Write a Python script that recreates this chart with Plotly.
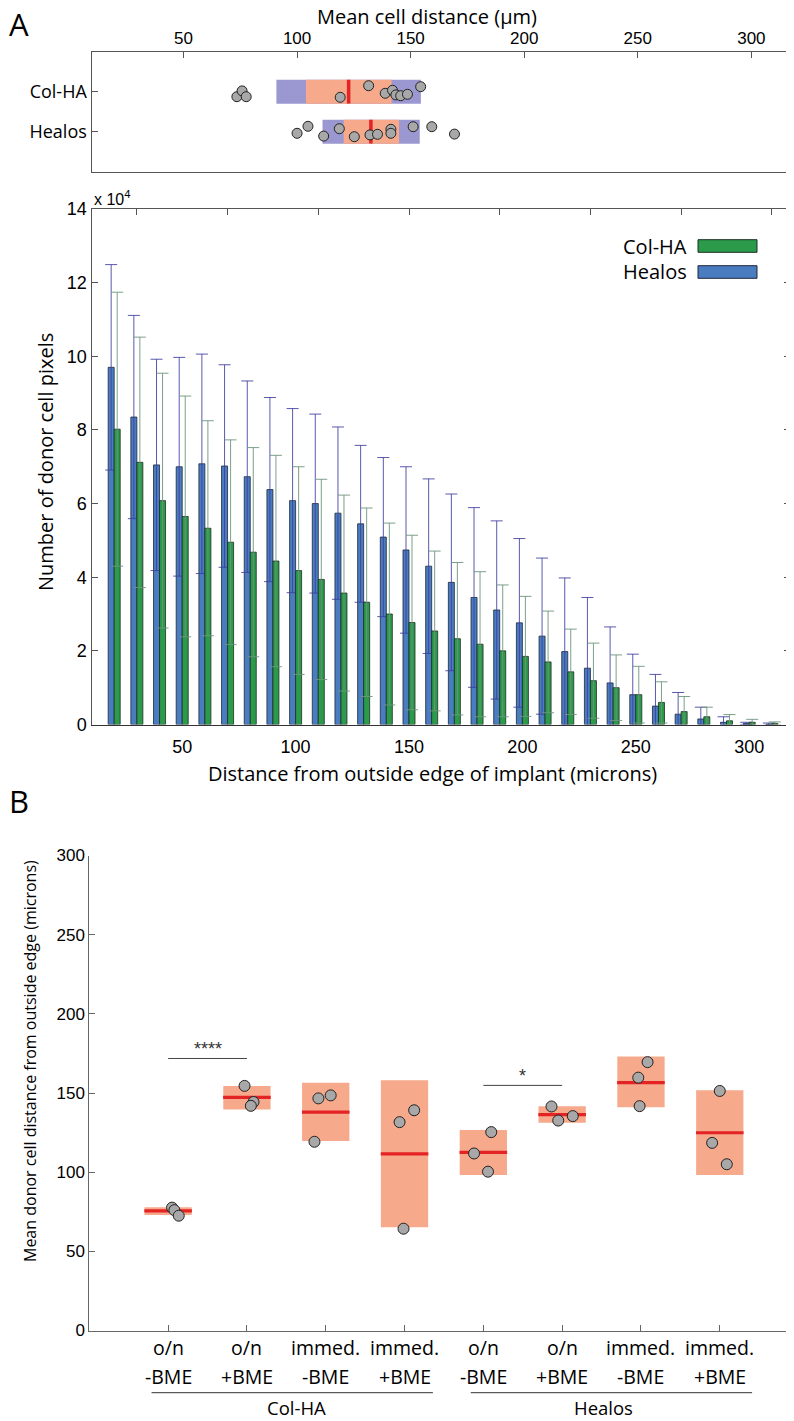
import plotly.graph_objects as go

# The page body adds an 8px offset; the figure is sized so that it fills the 794x1421 window.
OFF = 8
W, H = 794 - OFF, 1421 - OFF

# ---------------- Panel A (top): mean cell distance strip ----------------
strip_groups = ["Col-HA", "Healos"]
strip_pos = [1, 2]
outer_lo = [90.9, 111.2]
outer_hi = [154.5, 154.0]
inner_lo = [103.9, 120.5]
inner_hi = [141.6, 144.9]
strip_median = [122.7, 132.5]
colha_pts = [73.5, 75.8, 77.6, 119.0, 131.5, 138.8, 142.0, 143.5, 145.6, 148.6, 154.4]
colha_jit = [0.125, -0.02, 0.125, 0.14, -0.15, 0.04, -0.035, 0.08, 0.10, 0.065, -0.125]
healos_pts = [100.0, 104.8, 111.7, 118.6, 125.2, 132.1, 135.4, 141.3, 141.3, 151.1, 159.3, 169.3]
healos_jit = [0.04, -0.135, 0.11, -0.075, 0.125, 0.08, 0.065, -0.06, 0.04, -0.125, -0.125, 0.06]
strip_ticks = [50, 100, 150, 200, 250, 300]

# ---------------- Panel A (bottom): donor cell pixels histogram ----------------
bins = [20, 30, 40, 50, 60, 70, 80, 90, 100, 110, 120, 130, 140, 150, 160,
        170, 180, 190, 200, 210, 220, 230, 240, 250, 260, 270, 280, 290, 300, 310]
healos_mean = [9.70, 8.35, 7.05, 7.00, 7.08, 7.02, 6.73, 6.38, 6.08, 6.00, 5.74, 5.45, 5.09, 4.74, 4.30,
               3.86, 3.45, 3.11, 2.76, 2.40, 1.98, 1.53, 1.13, 0.81, 0.50, 0.28, 0.15, 0.06, 0.03, 0.01]
healos_sd = [2.79, 2.76, 2.87, 2.97, 2.98, 2.75, 2.60, 2.50, 2.50, 2.43, 2.34, 2.13, 2.16, 2.26, 2.37,
             2.40, 2.44, 2.42, 2.29, 2.12, 2.00, 1.92, 1.52, 1.10, 0.86, 0.59, 0.32, 0.15, 0.03, 0.03]
colha_mean = [8.02, 7.12, 6.08, 5.65, 5.33, 4.95, 4.68, 4.44, 4.18, 3.94, 3.57, 3.32, 3.00, 2.77, 2.54,
              2.33, 2.18, 2.00, 1.85, 1.70, 1.43, 1.19, 1.00, 0.81, 0.60, 0.35, 0.21, 0.10, 0.06, 0.03]
colha_sd = [3.72, 3.40, 3.46, 3.27, 2.92, 2.78, 2.84, 2.87, 2.82, 2.72, 2.66, 2.56, 2.47, 2.37, 2.17,
            2.07, 1.97, 1.79, 1.63, 1.38, 1.16, 1.02, 0.89, 0.77, 0.56, 0.41, 0.26, 0.17, 0.08, 0.04]
hist_xticks = [50, 100, 150, 200, 250, 300]
hist_top_ticks = [30, 70, 110, 150, 190, 230, 270, 310]
hist_yticks = [0, 2, 4, 6, 8, 10, 12, 14]

# ---------------- Panel B ----------------
cond_pos = [1, 2, 3, 4, 5, 6, 7, 8]
cond_line1 = ["o/n", "o/n", "immed.", "immed.", "o/n", "o/n", "immed.", "immed."]
cond_line2 = ["-BME", "+BME", "-BME", "+BME", "-BME", "+BME", "-BME", "+BME"]
b_lo = [72.9, 139.6, 119.7, 65.2, 98.2, 131.2, 141.0, 98.2]
b_hi = [77.9, 154.5, 156.4, 158.0, 126.7, 141.7, 173.0, 151.7]
b_median = [75.5, 147.3, 137.9, 111.5, 112.5, 136.3, 156.6, 124.9]
b_points = [[77.6, 76.0, 72.5], [154.5, 144.3, 141.9], [146.6, 148.5, 119.2], [131.6, 139.1, 64.3],
            [125.3, 111.8, 100.3], [141.5, 135.4, 132.6], [169.5, 159.7, 141.7], [151.3, 118.5, 105.0]]
b_jit = [[0.05, 0.08, 0.135], [-0.03, 0.084, 0.05], [-0.093, 0.063, -0.143], [-0.063, 0.122, -0.013],
         [0.10, -0.118, 0.059], [-0.135, 0.135, -0.05], [0.084, -0.034, -0.017], [0.0, -0.097, 0.089]]
b_yticks = [0, 50, 100, 150, 200, 250, 300]
group_names = ["Col-HA", "Healos"]
group_span = [(0.79, 4.36), (4.84, 8.41)]
group_label_x = [2.63, 6.52]
sig_pairs = [(1, 2, "****", 171.8), (5, 6, "*", 154.8)]

# ---------------- styles ----------------
PURPLE = "#9b97d0"
SALMON = "#f6a98b"
RED = "#e42324"
GRAYPT = "#a8a8a8"
BLUE = "#4a7dc0"
GREEN = "#2b9a4a"
SANS = "Open Sans"
NUM = "Liberation Sans"
AX = "#555555"


def px_x(p):
    return (p - OFF) / W


def px_y(p):
    return 1 - (p - OFF) / H


def label(x, y, text, size, family=SANS, xref="paper", yref="paper", xanchor="center", yanchor="middle",
          angle=0, color="black"):
    return dict(x=x, y=y, xref=xref, yref=yref, text=text, showarrow=False, xanchor=xanchor,
                yanchor=yanchor, textangle=angle, font=dict(family=family, size=size, color=color))


fig = go.Figure()

# --- top strip panel ---
fig.add_trace(go.Bar(orientation="h", y=strip_pos, x=[h - l for l, h in zip(outer_lo, outer_hi)], base=outer_lo,
                     width=0.6, offsetgroup="s", marker=dict(color=PURPLE, line=dict(width=0)),
                     xaxis="x", yaxis="y", hoverinfo="skip"))
fig.add_trace(go.Bar(orientation="h", y=strip_pos, x=[h - l for l, h in zip(inner_lo, inner_hi)], base=inner_lo,
                     width=0.6, offsetgroup="s", marker=dict(color=SALMON, line=dict(width=0)),
                     xaxis="x", yaxis="y", hoverinfo="skip"))
fig.add_trace(go.Scatter(x=strip_median, y=strip_pos, mode="markers",
                         marker=dict(symbol="line-ns", size=17, line=dict(color=RED, width=3.5)),
                         xaxis="x", yaxis="y", hoverinfo="skip"))
fig.add_trace(go.Scatter(x=colha_pts + healos_pts,
                         y=[1 + j for j in colha_jit] + [2 + j for j in healos_jit],
                         mode="markers",
                         marker=dict(symbol="circle", size=10, color=GRAYPT, line=dict(color="#222222", width=1)),
                         xaxis="x", yaxis="y", hoverinfo="skip"))

# --- histogram panel ---
fig.add_trace(go.Bar(x=bins, y=healos_mean, name="Healos",
                     marker=dict(color=BLUE, line=dict(color="#1c2738", width=0.8)),
                     error_y=dict(type="data", array=healos_sd, color="rgba(60,60,160,0.85)", thickness=1, width=6),
                     xaxis="x2", yaxis="y2", hoverinfo="skip"))
fig.add_trace(go.Bar(x=bins, y=colha_mean, name="Col-HA",
                     marker=dict(color=GREEN, line=dict(color="#1c2e22", width=0.8)),
                     error_y=dict(type="data", array=colha_sd, color="rgba(110,150,125,0.9)", thickness=1, width=6),
                     xaxis="x2", yaxis="y2", hoverinfo="skip"))
fig.add_trace(go.Scatter(x=[None], y=[None], xaxis="x4", yaxis="y2", hoverinfo="skip"))

# --- panel B ---
fig.add_trace(go.Bar(x=cond_pos, y=[h - l for l, h in zip(b_lo, b_hi)], base=b_lo, width=0.6,
                     marker=dict(color=SALMON, line=dict(width=0)), xaxis="x3", yaxis="y3", hoverinfo="skip"))
fig.add_trace(go.Scatter(x=cond_pos, y=b_median, mode="markers",
                         marker=dict(symbol="line-ew", size=34, line=dict(color=RED, width=3.2)),
                         xaxis="x3", yaxis="y3", hoverinfo="skip"))
bx, by = [], []
for c, pts, jit in zip(cond_pos, b_points, b_jit):
    for v, j in zip(pts, jit):
        bx.append(c + j)
        by.append(v)
fig.add_trace(go.Scatter(x=bx, y=by, mode="markers",
                         marker=dict(symbol="circle", size=11, color=GRAYPT, line=dict(color="#222222", width=1)),
                         xaxis="x3", yaxis="y3", hoverinfo="skip"))
annotations = []
for a, b, star, yv in sig_pairs:
    fig.add_trace(go.Scatter(x=[a, b], y=[yv, yv], mode="lines", line=dict(color="#444444", width=1),
                             xaxis="x3", yaxis="y3", hoverinfo="skip"))
    ann = label((a + b) / 2, yv, star, 18, family=NUM, xref="x3", yref="y3", yanchor="bottom", color="#333333")
    ann["yshift"] = -3
    annotations.append(ann)

# category labels & group labels in panel B
for c, l1, l2 in zip(cond_pos, cond_line1, cond_line2):
    annotations.append(label(c, px_y(1347), l1, 19.5, xref="x3"))
    annotations.append(label(c, px_y(1376), l2, 19.5, xref="x3"))
shapes = []
for name, (g0, g1), gx in zip(group_names, group_span, group_label_x):
    shapes.append(dict(type="line", xref="x3", yref="paper", x0=g0, x1=g1, y0=px_y(1392.7), y1=px_y(1392.7),
                       line=dict(color="#333333", width=1)))
    annotations.append(label(gx, px_y(1407), name, 18.5, xref="x3"))

# legend of histogram (custom swatches)
for name, col, yc, lc in [("Col-HA", GREEN, 246, "#1c2e22"), ("Healos", BLUE, 272, "#1c2738")]:
    shapes.append(dict(type="rect", xref="paper", yref="paper", x0=px_x(698), x1=px_x(757),
                       y0=px_y(yc + 6.3), y1=px_y(yc - 6.3), fillcolor=col, line=dict(color=lc, width=1)))
    annotations.append(label(px_x(689), px_y(yc), name, 20, xanchor="right"))

# titles & labels
annotations += [
    label(px_x(19), px_y(24), "A", 31),
    label(px_x(19), px_y(801), "B", 31),
    label(px_x(427), px_y(17), "Mean cell distance (\u03bcm)", 20),
    label(px_x(92), px_y(198), "x 10<sup>4</sup>", 16, family=NUM, xanchor="left"),
    label(px_x(45), px_y(462), "Number of donor cell pixels", 20, angle=-90),
    label(px_x(432), px_y(773), "Distance from outside edge of implant (microns)", 20),
    label(px_x(30), px_y(1061), "Mean donor cell distance from outside edge (microns)", 16, angle=-90),
]

xdom = [px_x(91.5), px_x(790)]
common = dict(showgrid=False, zeroline=False, automargin=False)
fig.update_layout(
    width=W, height=H, autosize=False, margin=dict(l=0, r=0, t=0, b=0, pad=0, autoexpand=False),
    paper_bgcolor="white", plot_bgcolor="white", showlegend=False,
    barmode="group", bargap=0.47, bargroupgap=0,
    xaxis=dict(domain=xdom, range=[9.5, 317], anchor="y", side="top", tickvals=strip_ticks,
               ticks="inside", ticklen=6, tickcolor=AX, showline=True, mirror=True, linecolor=AX, linewidth=1.2,
               tickfont=dict(family=NUM, size=17, color="black"), **common),
    yaxis=dict(domain=[px_y(171.7), px_y(51.7)], range=[3, 0], anchor="x", tickvals=strip_pos,
               ticktext=strip_groups, ticks="inside", ticklen=6, tickcolor=AX, showline=True, mirror=True,
               linecolor=AX, linewidth=1.2, tickfont=dict(family=SANS, size=18, color="black"), **common),
    xaxis2=dict(domain=xdom, range=[10, 318], anchor="y2", tickvals=hist_xticks, ticks="",
                showline=True, linecolor="#333333", linewidth=1.2, ticklabelstandoff=6,
                tickfont=dict(family=NUM, size=18, color="black"), **common),
    xaxis4=dict(domain=xdom, range=[10, 318], anchor="y2", overlaying="x2", side="top", tickvals=hist_top_ticks,
                ticks="inside", ticklen=6, tickcolor=AX, showticklabels=False, showline=True, linecolor=AX,
                linewidth=1.2, **common),
    yaxis2=dict(domain=[px_y(724.5), px_y(209)], range=[0, 14], anchor="x2", tickvals=hist_yticks,
                ticks="inside", ticklen=6, tickcolor=AX, showline=True, mirror="ticks", linecolor=AX, linewidth=1.2,
                tickfont=dict(family=NUM, size=18, color="black"), **common),
    xaxis3=dict(domain=[px_x(89.3), px_x(790.7)], range=[0, 8.9], anchor="y3", tickvals=cond_pos,
                ticks="inside", ticklen=6, tickcolor="#666666", showticklabels=False, showline=True,
                linecolor="#666666", linewidth=1, **common),
    yaxis3=dict(domain=[px_y(1330.5), px_y(855.5)], range=[0, 300], anchor="x3", tickvals=b_yticks,
                ticks="inside", ticklen=6, tickcolor="#666666", showline=True, linecolor="#666666", linewidth=1,
                tickfont=dict(family=NUM, size=17, color="black"), **common),
    annotations=annotations, shapes=shapes,
)

fig.write_html("out.html")
